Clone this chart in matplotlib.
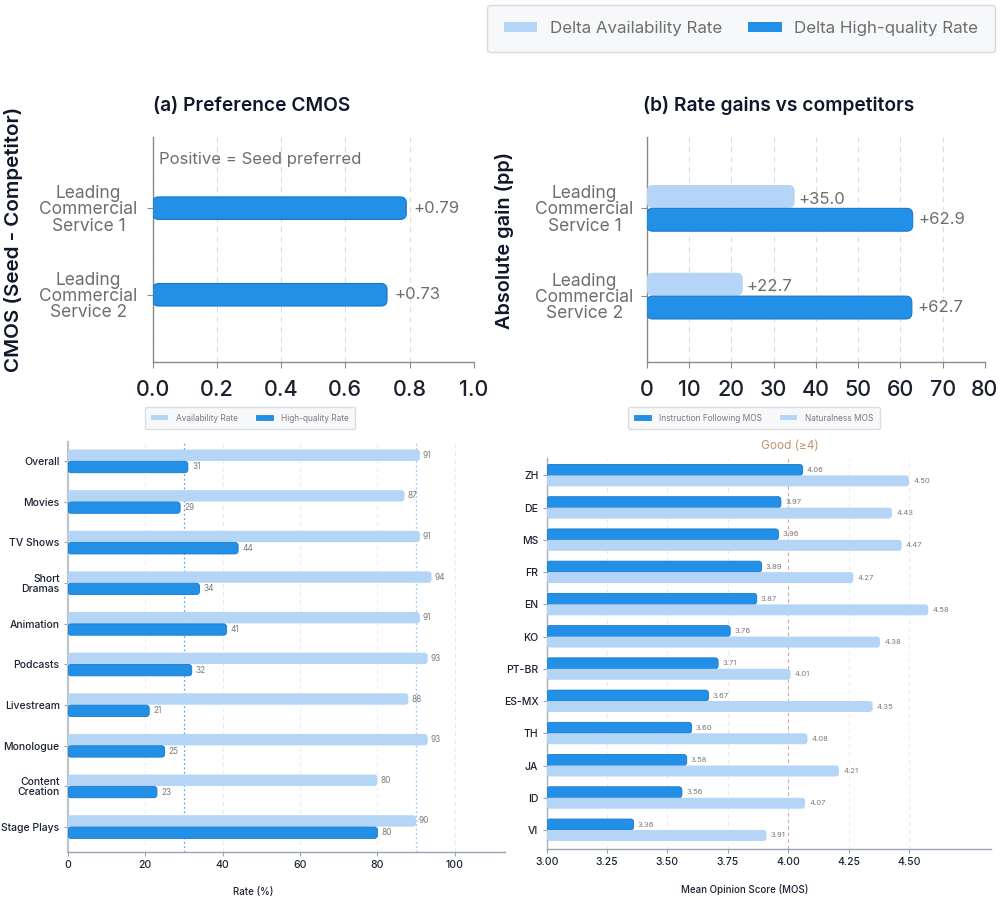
import matplotlib
matplotlib.use('Agg')
import matplotlib.pyplot as plt
from matplotlib.patches import FancyBboxPatch, Patch

plt.rcParams['font.family'] = ['Inter', 'DejaVu Sans']

# ---------------- data ----------------
services = ["Leading\nCommercial\nService 1", "Leading\nCommercial\nService 2"]
cmos = [0.79, 0.73]
delta_avail = [35.0, 22.7]
delta_hq = [62.9, 62.7]

genres = ["Overall", "Movies", "TV Shows", "Short\nDramas", "Animation", "Podcasts",
          "Livestream", "Monologue", "Content\nCreation", "Stage Plays"]
avail_rate = [91, 87, 91, 94, 91, 93, 88, 93, 80, 90]
hq_rate = [31, 29, 44, 34, 41, 32, 21, 25, 23, 80]

langs = ["ZH", "DE", "MS", "FR", "EN", "KO", "PT-BR", "ES-MX", "TH", "JA", "ID", "VI"]
if_mos = [4.06, 3.97, 3.96, 3.89, 3.87, 3.76, 3.71, 3.67, 3.60, 3.58, 3.56, 3.36]
nat_mos = [4.50, 4.43, 4.47, 4.27, 4.58, 4.38, 4.01, 4.35, 4.08, 4.21, 4.07, 3.91]

top_x_ticks_a = [0.0, 0.2, 0.4, 0.6, 0.8, 1.0]
top_x_ticks_b = [0, 10, 20, 30, 40, 50, 60, 70, 80]
rate_ticks = [0, 20, 40, 60, 80, 100]
mos_ticks = [3.00, 3.25, 3.50, 3.75, 4.00, 4.25, 4.50]

# ---------------- style ----------------
DARK = '#2290E6'
DARK_EC = '#1A78CC'
LIGHT = '#B4D5F6'
NAVY = '#1B2233'
GRAY = '#6E6E6E'
GRID = '#DADDE3'

W, H = 1000, 897
fig = plt.figure(figsize=(W / 100, H / 100), dpi=100)


def ax_px(l, t, r, b):
    return fig.add_axes([l / W, 1 - b / H, (r - l) / W, (b - t) / H])


def round_bars(ax, bars, r_px):
    pos = ax.get_position()
    x0, x1 = ax.get_xlim()
    y0, y1 = ax.get_ylim()
    ux = abs(x1 - x0) / (pos.width * W)
    uy = abs(y1 - y0) / (pos.height * H)
    for b in bars:
        x, y = b.get_x(), b.get_y()
        w, h = b.get_width(), b.get_height()
        p = FancyBboxPatch((x, y), w, h,
                           boxstyle=f"round,pad=0,rounding_size={r_px * ux}",
                           mutation_aspect=uy / ux,
                           fc=b.get_facecolor(), ec=b.get_edgecolor(),
                           lw=b.get_linewidth(), zorder=b.get_zorder())
        ax.add_patch(p)
        b.set_visible(False)


def style_top(ax):
    for s in ['top', 'right']:
        ax.spines[s].set_visible(False)
    for s in ['left', 'bottom']:
        ax.spines[s].set_color('#8A8A8A')
        ax.spines[s].set_linewidth(1.0)
    ax.tick_params(axis='x', labelsize=15.5, length=4, pad=9, colors='#8A8A8A',
                   labelcolor='#1B1F2E')
    ax.tick_params(axis='y', labelsize=12.5, length=4, pad=8, colors='#8A8A8A',
                   labelcolor=GRAY)
    for lab in ax.get_xticklabels():
        lab.set_fontweight('medium')
    for lab in ax.get_yticklabels():
        lab.set_linespacing(0.95)
        lab.set_horizontalalignment('center')
    ax.xaxis.grid(True, color=GRID, ls=(0, (5, 4)), lw=0.8)
    ax.set_axisbelow(True)


# ---------------- top legend ----------------
leg = fig.legend(handles=[Patch(fc=LIGHT, ec='none', label='Delta Availability Rate'),
                          Patch(fc=DARK, ec='none', label='Delta High-quality Rate')],
                 loc='center', bbox_to_anchor=(741 / W, 1 - 28.5 / H), ncol=2,
                 fontsize=12.2, frameon=True, fancybox=True, handlelength=2.0,
                 handleheight=0.55, handletextpad=0.75, columnspacing=1.5,
                 borderpad=0.95, borderaxespad=0)
leg.get_frame().set_facecolor('#F6F7F9')
leg.get_frame().set_edgecolor('#CDD1D7')
leg.get_frame().set_linewidth(1.0)
for t in leg.get_texts():
    t.set_color(GRAY)

# ---------------- (a) ----------------
axa = ax_px(152.7, 137, 473.7, 361.7)
ya = list(range(len(services)))
bars = axa.barh(ya, cmos, height=0.26, color=DARK, edgecolor=DARK_EC, lw=0.8, zorder=3)
axa.set_xlim(0, 1.0)
axa.set_ylim(1.773, -0.822)
axa.set_xticks(top_x_ticks_a)
axa.set_xticklabels([f"{v:.1f}" for v in top_x_ticks_a])
axa.set_yticks(ya)
axa.set_yticklabels(services)
style_top(axa)
for lab in axa.get_yticklabels():
    lab.set_x(-0.148)
round_bars(axa, bars, 6)
for yv, v in zip(ya, cmos):
    axa.annotate(f"+{v:.2f}", (v, yv), xytext=(5, 0), textcoords='offset points',
                 va='center', ha='left', fontsize=12, color=GRAY)
axa.text(0.02, 0.9, "Positive = Seed preferred", transform=axa.transAxes,
         fontsize=12, color=GRAY, va='center', ha='left')
axa.set_title("(a) Preference CMOS", loc='left', fontsize=13.8, fontweight='semibold',
              color='#11172A', pad=19)
fig.text(14 / W, 1 - 239 / H, "CMOS (Seed - Competitor)", rotation=90, ha='center',
         va='center', fontsize=14.8, fontweight='semibold', color='#11172A')

# ---------------- (b) ----------------
axb = ax_px(646.7, 137, 985, 361.7)
yb = list(range(len(services)))
b1 = axb.barh([y - 0.133 for y in yb], delta_avail, height=0.26, color=LIGHT,
              edgecolor='none', zorder=3)
b2 = axb.barh([y + 0.133 for y in yb], delta_hq, height=0.26, color=DARK,
              edgecolor=DARK_EC, lw=0.8, zorder=3)
axb.set_xlim(0, 80)
axb.set_ylim(1.75, -0.81)
axb.set_xticks(top_x_ticks_b)
axb.set_yticks(yb)
axb.set_yticklabels(services)
style_top(axb)
for lab in axb.get_yticklabels():
    lab.set_x(-0.135)
round_bars(axb, b1, 6)
round_bars(axb, b2, 6)
for yv, v in zip(yb, delta_avail):
    axb.annotate(f"+{v:.1f}", (v, yv - 0.133), xytext=(3, -2), textcoords='offset points',
                 va='center', ha='left', fontsize=12, color=GRAY)
for yv, v in zip(yb, delta_hq):
    axb.annotate(f"+{v:.1f}", (v, yv + 0.133), xytext=(4, 0), textcoords='offset points',
                 va='center', ha='left', fontsize=12, color=GRAY)
axb.set_title("(b) Rate gains vs competitors", loc='left', fontsize=13.8,
              fontweight='semibold', color='#11172A', pad=19, x=-0.012)
fig.text(505 / W, 1 - 240 / H, "Absolute gain (pp)", rotation=90, ha='center',
         va='center', fontsize=14.3, fontweight='semibold', color='#11172A')


def style_bottom(ax):
    for s in ['top', 'right']:
        ax.spines[s].set_visible(False)
    ax.spines['left'].set_color('#BFC3CA')
    ax.spines['left'].set_linewidth(1.6)
    ax.spines['bottom'].set_color('#9AA3B5')
    ax.spines['bottom'].set_linewidth(1.0)
    ax.tick_params(axis='x', labelsize=7.5, length=3, pad=3, colors='#9AA3B5',
                   labelcolor=NAVY)
    ax.tick_params(axis='y', labelsize=7.5, length=3, pad=3, colors='#9AA3B5',
                   labelcolor=NAVY)
    for lab in ax.get_xticklabels() + ax.get_yticklabels():
        lab.set_fontweight('medium')
    ax.xaxis.grid(True, color='#E8EBF0', ls=(0, (4, 4)), lw=0.7)
    ax.set_axisbelow(True)


# ---------------- bottom-left ----------------
axc = ax_px(68, 442, 505, 852)
yc = list(range(len(genres)))
c1 = axc.barh([y - 0.145 for y in yc], avail_rate, height=0.28, color=LIGHT,
              edgecolor='none', zorder=3, label='Availability Rate')
c2 = axc.barh([y + 0.145 for y in yc], hq_rate, height=0.28, color=DARK,
              edgecolor=DARK_EC, lw=0.6, zorder=3, label='High-quality Rate')
axc.set_xlim(0, 113)
axc.set_ylim(9.62, -0.47)
axc.set_xticks(rate_ticks)
axc.set_yticks(yc)
axc.set_yticklabels(genres)
style_bottom(axc)
for lab in axc.get_yticklabels():
    lab.set_linespacing(1.0)
axc.axvline(30, color='#5CA8EA', ls=(0, (1.5, 2)), lw=0.9, zorder=2)
axc.axvline(90, color='#9FCBF2', ls=(0, (1.5, 2)), lw=0.9, zorder=2)
round_bars(axc, c1, 3)
round_bars(axc, c2, 3)
for yv, v in zip(yc, avail_rate):
    axc.annotate(f"{v}", (v, yv - 0.145), xytext=(2, 0), textcoords='offset points',
                 va='center', ha='left', fontsize=6, color='#7A7A7A')
for yv, v in zip(yc, hq_rate):
    axc.annotate(f"{v}", (v, yv + 0.145), xytext=(3, 0), textcoords='offset points',
                 va='center', ha='left', fontsize=6, color='#7A7A7A')
axc.set_xlabel("Rate (%)", fontsize=7, color=NAVY, fontweight='medium')
axc.xaxis.set_label_coords(0.423, -0.085)
lc = axc.legend(handles=[Patch(fc=LIGHT, ec='none', label='Availability Rate'),
                         Patch(fc=DARK, ec=DARK_EC, lw=0.5, label='High-quality Rate')],
                loc='center', bbox_to_anchor=(250 / W, 1 - 418 / H),
                bbox_transform=fig.transFigure, ncol=2, fontsize=6, frameon=True,
                fancybox=True, handlelength=2.0, handleheight=0.5, handletextpad=1.0,
                columnspacing=2.2, borderpad=0.75, borderaxespad=0)
lc.get_frame().set_facecolor('#F6F7F9')
lc.get_frame().set_edgecolor('#D3D6DC')
for t in lc.get_texts():
    t.set_color('#7A7A7A')

# ---------------- bottom-right ----------------
axd = ax_px(546.7, 458, 991, 849)
yd = list(range(len(langs)))
d1 = axd.barh([y - 0.17 for y in yd], [v - 3.0 for v in if_mos], left=3.0, height=0.34,
              color=DARK, edgecolor=DARK_EC, lw=0.6, zorder=3)
d2 = axd.barh([y + 0.17 for y in yd], [v - 3.0 for v in nat_mos], left=3.0, height=0.34,
              color=LIGHT, edgecolor='none', zorder=3)
axd.set_xlim(3.0, 4.84)
axd.set_ylim(11.59, -0.54)
axd.set_xticks(mos_ticks)
axd.set_xticklabels([f"{v:.2f}" for v in mos_ticks])
axd.set_yticks(yd)
axd.set_yticklabels(langs)
style_bottom(axd)
axd.spines['left'].set_color('#A8AFBC')
axd.spines['left'].set_linewidth(1.0)
axd.axvline(4.0, color='#DDA398', ls=(0, (3, 3)), lw=0.8, zorder=2)
axd.annotate("Good (≥4)", (4.0, 1.0), xycoords=axd.get_xaxis_transform(),
             xytext=(1, 4), textcoords='offset points', ha='center',
             va='bottom', fontsize=8.5, color='#C29468')
round_bars(axd, d1, 3)
round_bars(axd, d2, 3)
for yv, v in zip(yd, if_mos):
    axd.annotate(f"{v:.2f}", (v, yv - 0.17), xytext=(3, 0), textcoords='offset points',
                 va='center', ha='left', fontsize=5.5, color='#7A7A7A')
for yv, v in zip(yd, nat_mos):
    axd.annotate(f"{v:.2f}", (v, yv + 0.17), xytext=(3, 0), textcoords='offset points',
                 va='center', ha='left', fontsize=5.5, color='#7A7A7A')
axd.set_xlabel("Mean Opinion Score (MOS)", fontsize=7, color=NAVY, fontweight='medium')
axd.xaxis.set_label_coords(0.446, -0.09)
ld = axd.legend(handles=[Patch(fc=DARK, ec=DARK_EC, lw=0.5, label='Instruction Following MOS'),
                         Patch(fc=LIGHT, ec='none', label='Naturalness MOS')],
                loc='center', bbox_to_anchor=(754 / W, 1 - 418 / H),
                bbox_transform=fig.transFigure, ncol=2, fontsize=6, frameon=True,
                fancybox=True, handlelength=2.0, handleheight=0.5, handletextpad=1.0,
                columnspacing=2.2, borderpad=0.75, borderaxespad=0)
ld.get_frame().set_facecolor('#F6F7F9')
ld.get_frame().set_edgecolor('#D3D6DC')
for t in ld.get_texts():
    t.set_color('#7A7A7A')

fig.savefig('out.png', dpi=100, facecolor='white')
